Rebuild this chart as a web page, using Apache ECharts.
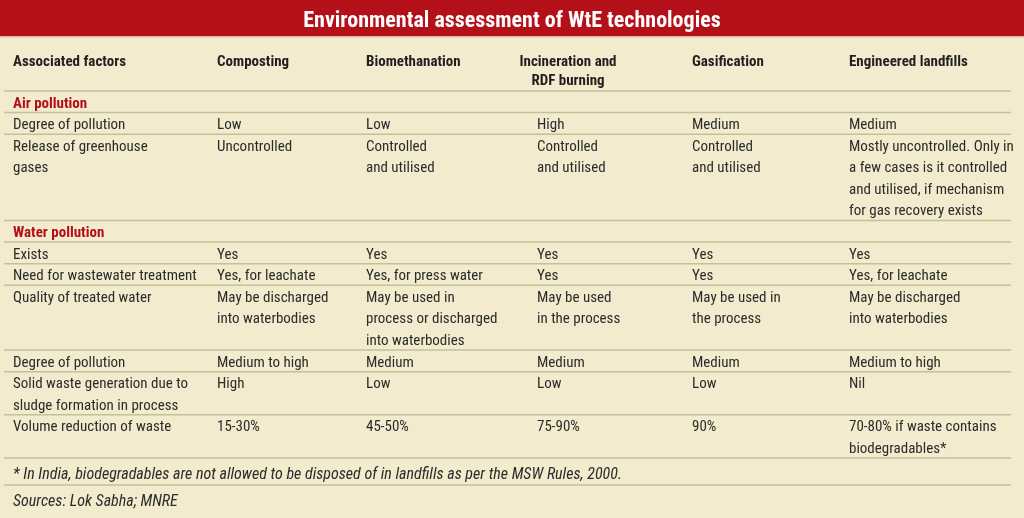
<!DOCTYPE html>
<html>
<head>
<meta charset="utf-8">
<title>Environmental assessment of WtE technologies</title>
<script src="https://cdn.jsdelivr.net/npm/echarts@6/dist/echarts.min.js"></script>
<style>
  html, body { margin: 0; padding: 0; background: #f2ebcd; }
  #main { width: 1024px; height: 518px; }
</style>
</head>
<body>
<div id="main"></div>
<script>
// ---- table data ----
var titleText = 'Environmental assessment of WtE technologies';
var columns = ['Associated factors', 'Composting', 'Biomethanation', 'Incineration and\nRDF burning', 'Gasification', 'Engineered landfills'];
var sections = ['Air pollution', 'Water pollution'];
var airRows = [
  ['Degree of pollution', 'Low', 'Low', 'High', 'Medium', 'Medium'],
  ['Release of greenhouse\ngases', 'Uncontrolled', 'Controlled\nand utilised', 'Controlled\nand utilised', 'Controlled\nand utilised',
    'Mostly uncontrolled. Only in\na few cases is it controlled\nand utilised, if mechanism\nfor gas recovery exists']
];
var waterRows = [
  ['Exists', 'Yes', 'Yes', 'Yes', 'Yes', 'Yes'],
  ['Need for wastewater treatment', 'Yes, for leachate', 'Yes, for press water', 'Yes', 'Yes', 'Yes, for leachate'],
  ['Quality of treated water', 'May be discharged\ninto waterbodies', 'May be used in\nprocess or discharged\ninto waterbodies',
    'May be used\nin the process', 'May be used in\nthe process', 'May be discharged\ninto waterbodies'],
  ['Degree of pollution', 'Medium to high', 'Medium', 'Medium', 'Medium', 'Medium to high'],
  ['Solid waste generation due to\nsludge formation in process', 'High', 'Low', 'Low', 'Low', 'Nil'],
  ['Volume reduction of waste', '15-30%', '45-50%', '75-90%', '90%', '70-80% if waste contains\nbiodegradables*']
];
var footnote = '* In India, biodegradables are not allowed to be disposed of in landfills as per the MSW Rules, 2000.';
var sourceText = 'Sources: Lok Sabha; MNRE';

// ---- layout (x in px on a 0..1024 axis, y in text lines) ----
var colX = [13, 217, 366, 537, 692, 849];
var headX = [13, 217, 366, 568, 692, 849];
var headAlign = ['left', 'left', 'left', 'center', 'left', 'left'];
var ruleX = [4, 1011];
var FONT = '"Liberation Sans Narrow", "Roboto Condensed", Roboto, sans-serif';
var RED = '#b3101a';

function nLines(cells) {
  return Math.max.apply(null, cells.map(function (c) { return c.split('\n').length; }));
}

// build rows top to bottom
var tableRows = [];
var y = -2.36;
function addRow(cells, opt) {
  var h = opt.h != null ? opt.h : nLines(cells);
  tableRows.push({
    cells: cells, top: y, h: h,
    first: opt.first != null ? opt.first : 0.5,
    step: opt.step || 1,
    kind: opt.kind || 'body',
    rule: opt.rule !== false
  });
  y += h;
}
addRow(columns, { h: 2.36, first: 0.97, step: 0.88, kind: 'head' });
addRow([sections[0]], { kind: 'section' });
airRows.forEach(function (r) { addRow(r, {}); });
addRow([sections[1]], { kind: 'section' });
waterRows.forEach(function (r) { addRow(r, {}); });
addRow([footnote], { h: 1.25, first: 0.7, kind: 'note' });
addRow([sourceText], { h: 1.2, first: 0.69, kind: 'note', rule: false });

var styles = {
  head: { fill: '#231f20', fontWeight: 'bold', fontStyle: 'normal', dy: 1, size: 15 },
  section: { fill: RED, fontWeight: 'bold', fontStyle: 'normal', dy: 2, size: 15 },
  body: { fill: '#2b2b2b', fontWeight: 'normal', fontStyle: 'normal', dy: 2, size: 15 },
  note: { fill: '#2b2b2b', fontWeight: 'normal', fontStyle: 'italic', dy: 2, size: 16 }
};

function renderRow(params, api) {
  var row = tableRows[params.dataIndex];
  var st = styles[row.kind];
  var children = [];
  row.cells.forEach(function (cell, c) {
    var x = row.kind === 'head' ? headX[c] : colX[c];
    var align = row.kind === 'head' ? headAlign[c] : 'left';
    cell.split('\n').forEach(function (line, i) {
      var p = api.coord([x, row.top + row.first + i * row.step]);
      children.push({
        type: 'text',
        x: p[0], y: p[1] + st.dy,
        style: {
          text: line, fill: st.fill,
          fontFamily: FONT, fontSize: st.size,
          fontWeight: st.fontWeight, fontStyle: st.fontStyle,
          align: align, verticalAlign: 'middle'
        }
      });
    });
  });
  if (row.rule) {
    var a = api.coord([ruleX[0], row.top + row.h]);
    var b = api.coord([ruleX[1], row.top + row.h]);
    children.push({
      type: 'line',
      shape: { x1: a[0], y1: a[1], x2: b[0], y2: b[1] },
      style: { stroke: '#c6bf9b', lineWidth: 1.5 }
    });
  }
  return { type: 'group', children: children };
}

var myChart = echarts.init(document.getElementById('main'));
myChart.setOption({
  backgroundColor: '#f2ebcd',
  animation: false,
  title: {
    text: titleText, left: 'center', top: 5,
    textStyle: { color: '#ffffff', fontSize: 22, fontWeight: 'bold', fontFamily: FONT }
  },
  graphic: [
    { type: 'rect', z: -1, shape: { x: 0, y: 0, width: 1024, height: 36 }, style: { fill: RED } },
    { type: 'rect', z: -1, shape: { x: 0, y: 36, width: 1024, height: 1.5 }, style: { fill: '#e3b3a6' } }
  ],
  grid: { left: 0, right: 0, top: 91, bottom: 60 },
  xAxis: { type: 'value', min: 0, max: 1024, show: false },
  yAxis: { type: 'value', min: 0, max: 17, inverse: true, show: false },
  series: [{
    type: 'custom',
    renderItem: renderRow,
    clip: false,
    data: tableRows.map(function (r, i) { return [0, r.top]; })
  }]
});
</script>
</body>
</html>
